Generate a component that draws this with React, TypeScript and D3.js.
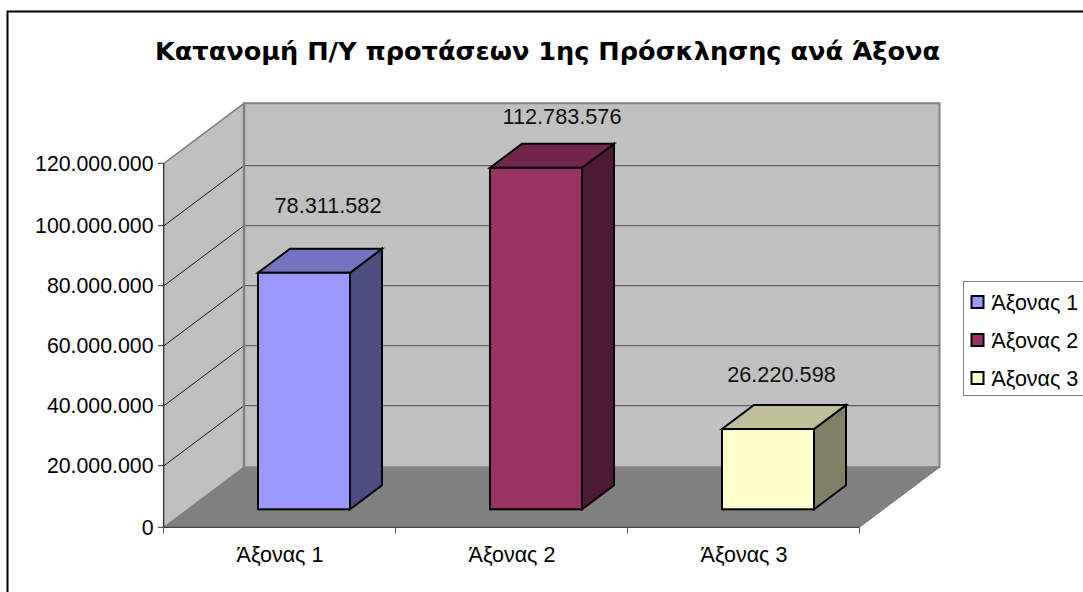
import React from "react";
import * as d3 from "d3";

const categories = ["Άξονας 1", "Άξονας 2", "Άξονας 3"];
const values = [78311582, 112783576, 26220598];
const valueLabels = ["78.311.582", "112.783.576", "26.220.598"];
const yTicks = [0, 20000000, 40000000, 60000000, 80000000, 100000000, 120000000];
const faceColors = ["#9999FF", "#993366", "#FFFFCC"];
const topColors = ["#7373BF", "#73264D", "#BFBF99"];
const sideColors = ["#4D4D80", "#4D1A33", "#808066"];
const title = "Κατανομή Π/Υ προτάσεων 1ης Πρόσκλησης ανά Άξονα";

const FONT = "'Liberation Sans', Arial, sans-serif";
const left = 164, right = 860, base = 527.3, top = 163.3;
const DX = 80, DY = 60; // full chart depth
const barFront = 0.3, barBack = 0.7;
// value-label anchors as placed in the source chart
const labelCx = [328, 562, 781.5];
const labelBaseline = [212.5, 124, 381.5];

const y = d3.scaleLinear()
  .domain([0, 20000000, 100000000, 120000000])
  .range([base, 465.7, 225.7, top]);
const x = d3.scaleBand<string>().domain(categories).range([left, right]).paddingInner(0.6034).paddingOuter(0.3017);
const fmt = (v: number) => d3.format(",")(v).replace(/,/g, ".");
const pts = (p: number[][]) => p.map((q) => q.join(",")).join(" ");

export default function App() {
  const inner = yTicks.filter((t) => t > 0 && t < 120000000);
  return (
    <svg width={1083} height={592} style={{ position: "absolute", left: 0, top: 0, background: "#fff" }}>
      <path d="M1083,11.5 H7.5 V592" fill="none" stroke="#000" strokeWidth={2} />
      <text x={547.5} y={60} textAnchor="middle" fontFamily="'DejaVu Sans', Verdana, sans-serif" fontWeight="bold" fontSize={25.6} fill="#000">{title}</text>

      {/* walls */}
      <polygon points={pts([[left + DX, top - DY], [right + DX - 0.5, top - DY], [right + DX - 0.5, base - DY], [left + DX, base - DY]])} fill="#C0C0C0" stroke="#808080" strokeWidth={2} />
      <polygon points={pts([[left, top], [left + DX, top - DY], [left + DX, base - DY], [left, base]])} fill="#C0C0C0" stroke="#808080" strokeWidth={1.5} />
      <polygon points={pts([[left, base], [left + DX, base - DY], [right + DX - 0.5, base - DY], [right - 0.5, base]])} fill="#808080" stroke="#808080" strokeWidth={1} />

      {/* gridlines */}
      {inner.map((t) => (
        <path key={t} d={`M${left + DX},${y(t) - DY}H${right + DX - 0.5}`} fill="none" stroke="#4a4a4a" strokeWidth={1} />
      ))}
      {inner.map((t) => (
        <path key={t} d={`M${left},${y(t)}L${left + DX},${y(t) - DY}`} fill="none" stroke="#111" strokeWidth={1} />
      ))}
      <path d={`M${left + DX},${top - DY}V${base - DY}`} stroke="#808080" strokeWidth={2.5} fill="none" />

      {/* axes */}
      <path d={`M${left - 0.5},${top}V${base}H${right - 0.5}`} fill="none" stroke="#333" strokeWidth={1} />
      {yTicks.map((t) => (
        <g key={t}>
          <path d={`M${left - 6},${y(t)}H${left}`} stroke="#333" fill="none" />
          <text x={153.5} y={y(t) + 7.5} textAnchor="end" fontFamily={FONT} fontSize={21.3} fill="#000">{fmt(t)}</text>
        </g>
      ))}
      {[0, 1, 2, 3].map((i) => {
        const tx = left + (i * (right - left)) / 3;
        return <path key={i} d={`M${tx - 0.5},${base}V${base + 6}`} stroke="#555" fill="none" />;
      })}
      {categories.map((c) => (
        <text key={c} x={(x(c) as number) + x.bandwidth() / 2} y={562} textAnchor="middle" fontFamily={FONT} fontSize={21.5} fill="#000">{c}</text>
      ))}

      {/* bars */}
      {categories.map((c, i) => {
        const w = x.bandwidth();
        const h = base - y(values[i]);
        const x0 = (x(c) as number) + DX * barFront;
        const y0 = base - DY * barFront;
        const ddx = DX * (barBack - barFront), ddy = DY * (barBack - barFront);
        return (
          <g key={c} stroke="#000" strokeWidth={2} strokeLinejoin="miter">
            <polygon points={pts([[x0 + w, y0 - h], [x0 + w + ddx, y0 - h - ddy], [x0 + w + ddx, y0 - ddy], [x0 + w, y0]])} fill={sideColors[i]} />
            <polygon points={pts([[x0, y0 - h], [x0 + ddx, y0 - h - ddy], [x0 + w + ddx, y0 - h - ddy], [x0 + w, y0 - h]])} fill={topColors[i]} />
            <rect x={x0} y={y0 - h} width={w} height={h} fill={faceColors[i]} />
            <text x={labelCx[i]} y={labelBaseline[i]} textAnchor="middle" stroke="none" fontFamily={FONT} fontSize={21.7} fill="#111">{valueLabels[i]}</text>
          </g>
        );
      })}

      {/* legend */}
      <rect x={963.5} y={281.5} width={130} height={114} fill="#fff" stroke="#808080" strokeWidth={1} />
      {categories.map((c, i) => (
        <g key={c}>
          <rect x={971.5} y={296 + i * 38} width={12} height={12} fill={faceColors[i]} stroke="#000" strokeWidth={2} />
          <text x={991.5} y={310 + i * 38} fontFamily={FONT} fontSize={21.5} fill="#000">{c}</text>
        </g>
      ))}
    </svg>
  );
}
